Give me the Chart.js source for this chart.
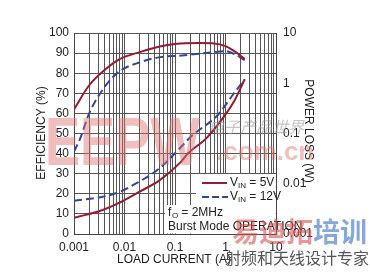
<!DOCTYPE html>
<html>
<head>
<meta charset="utf-8">
<script src="https://cdn.jsdelivr.net/npm/chart.js@4"></script>
<style>
  body { margin: 0; background: #fff; }
  canvas { display: block; }
</style>
</head>
<body>
<canvas id="effChart" width="370" height="276"></canvas>
<script>
// efficiency (%) vs load current (A)
const effCurrent5 = [0.001, 0.002, 0.004, 0.008, 0.02, 0.05, 0.1, 0.3, 0.6, 1, 1.5, 2.4];
const eff5 = [62, 74, 81.5, 87, 90.5, 93.3, 94.5, 95, 94.8, 93.5, 91, 87];
const effCurrent12 = [0.001, 0.0013, 0.002, 0.004, 0.008, 0.018, 0.05, 0.12, 0.6, 1, 1.5, 2.4];
const eff12 = [41, 47, 60, 73, 81, 85, 88, 88.7, 90.5, 91, 89.5, 86.5];

// power loss (W) vs load current (A)
const lossCurrent5 = [0.001, 0.0037, 0.008, 0.018, 0.05, 0.125, 0.18, 0.42, 0.97, 1.5, 2.4];
const loss5 = [0.0021, 0.003, 0.0042, 0.0066, 0.0118, 0.026, 0.04, 0.081, 0.23, 0.45, 1.2];
const lossCurrent12 = [0.001, 0.0037, 0.008, 0.018, 0.05, 0.125, 0.21, 0.71, 1.4, 2.4];
const loss12 = [0.0046, 0.0055, 0.0069, 0.0105, 0.0205, 0.051, 0.088, 0.236, 0.59, 1.2];

const xDecades = [0.001, 0.01, 0.1, 1, 10];
const xTickLabels = ["0.001", "0.01", "0.1", "1", "10"];
const lossDecades = [0.001, 0.01, 0.1, 1, 10];
const lossTickLabels = ["0.001", "0.01", "0.1", "1", "10"];

const RED = "#951b30";
const BLUE = "#34469a";
const FONT = "'Liberation Sans Narrow', 'Liberation Sans', Arial, sans-serif";

function pts(xs, ys) {
    return xs.map((x, i) => ({ x: x, y: ys[i] }));
}

// all 1..9 lines per decade for the log grid
const xGrid = [];
xDecades.forEach(d => {
    for (let k = 1; k <= 9; k++) {
        if (d * k <= 10.0001) xGrid.push(+(d * k).toPrecision(3));
    }
});

function labelFor(value, decades, labels) {
    for (let i = 0; i < decades.length; i++) {
        if (Math.abs(value / decades[i] - 1) < 1e-6) return labels[i];
    }
    return "";
}

function drawVin(ctx, x, y, rest) {
    ctx.font = "12px " + FONT;
    ctx.fillText("V", x, y);
    let w = ctx.measureText("V").width;
    ctx.font = "8px " + FONT;
    ctx.fillText("IN", x + w, y + 3);
    w += ctx.measureText("IN").width;
    ctx.font = "12px " + FONT;
    ctx.fillText(rest, x + w, y);
}

const overlay = {
    id: "overlay",
    beforeDatasetsDraw(chart) {
        const ctx = chart.ctx;
        ctx.save();
        ctx.fillStyle = "#fff";
        // white area behind legend and notes
        ctx.fillRect(196, 174, 79.5, 60);
        ctx.fillRect(165, 205, 110.5, 28.5);
        ctx.restore();
    },
    afterDraw(chart) {
        const ctx = chart.ctx;
        ctx.save();
        ctx.fillStyle = "#222";
        ctx.textBaseline = "middle";

        // legend
        ctx.lineWidth = 2;
        ctx.strokeStyle = RED;
        ctx.beginPath(); ctx.moveTo(202, 183); ctx.lineTo(227, 183); ctx.stroke();
        ctx.strokeStyle = BLUE;
        ctx.setLineDash([7, 3]);
        ctx.beginPath(); ctx.moveTo(202, 197); ctx.lineTo(228, 197); ctx.stroke();
        ctx.setLineDash([]);
        ctx.textAlign = "left";
        drawVin(ctx, 230, 183, " = 5V");
        drawVin(ctx, 230, 197, " = 12V");

        // notes
        ctx.font = "12px " + FONT;
        ctx.fillText("f", 168, 213);
        ctx.font = "8px " + FONT;
        ctx.fillText("O", 172, 216);
        ctx.font = "12px " + FONT;
        ctx.fillText(" = 2MHz", 178, 213);
        ctx.fillText("Burst Mode OPERATION", 168, 227);

        // axis titles
        ctx.font = "12px " + FONT;
        ctx.textAlign = "center";
        ctx.fillText("LOAD CURRENT (A)", 174, 260);
        ctx.save();
        ctx.translate(42, 133);
        ctx.rotate(-Math.PI / 2);
        ctx.fillText("EFFICIENCY (%)", 0, 0);
        ctx.restore();
        ctx.save();
        ctx.translate(308, 131);
        ctx.rotate(Math.PI / 2);
        ctx.fillText("POWER LOSS (W)", 0, 0);
        ctx.restore();

        // watermarks
        ctx.textBaseline = "alphabetic";
        ctx.save();
        ctx.fillStyle = "rgba(225, 110, 110, 0.45)";
        ctx.font = "bold 68px 'Liberation Sans', Arial, sans-serif";
        ctx.textAlign = "left";
        const w = ctx.measureText("EEPW").width;
        ctx.translate(45, 165);
        ctx.scale(155 / w, 1);
        ctx.fillText("EEPW", 0, 0);
        ctx.restore();

        ctx.fillStyle = "rgba(225, 110, 110, 0.45)";
        ctx.font = "bold 26px 'Liberation Sans', Arial, sans-serif";
        ctx.textAlign = "left";
        ctx.fillText(".com.cn", 216, 160);

        ctx.fillStyle = "rgba(150, 150, 150, 0.55)";
        ctx.font = "italic 16px 'Noto Sans CJK SC'";
        ctx.fillText("电子产品世界", 208, 133);

        ctx.font = "bold 27px 'Noto Sans CJK SC'";
        ctx.fillStyle = "rgba(215, 80, 80, 0.6)";
        ctx.fillText("易迪拓", 232, 242);
        ctx.fillStyle = "rgba(70, 120, 200, 0.65)";
        ctx.fillText("培训", 232 + ctx.measureText("易迪拓").width, 242);

        ctx.fillStyle = "#555";
        ctx.font = "16px 'Noto Sans CJK SC'";
        ctx.fillText("射频和天线设计专家", 225, 264);
        ctx.restore();
    }
};

new Chart(document.getElementById("effChart"), {
    type: "line",
    data: {
        datasets: [
            { label: "VIN = 5V", data: pts(effCurrent5, eff5), yAxisID: "y",
              borderColor: RED, borderWidth: 2 },
            { label: "VIN = 12V", data: pts(effCurrent12, eff12), yAxisID: "y",
              borderColor: BLUE, borderWidth: 2, borderDash: [8, 4] },
            { label: "loss 5V", data: pts(lossCurrent5, loss5), yAxisID: "y2",
              borderColor: RED, borderWidth: 2 },
            { label: "loss 12V", data: pts(lossCurrent12, loss12), yAxisID: "y2",
              borderColor: BLUE, borderWidth: 2, borderDash: [8, 4] }
        ]
    },
    options: {
        responsive: false,
        animation: false,
        layout: { padding: { top: 33, left: 0, right: 0, bottom: 0 } },
        elements: {
            point: { radius: 0 },
            line: { cubicInterpolationMode: "monotone", fill: false }
        },
        plugins: { legend: { display: false }, tooltip: { enabled: false } },
        scales: {
            x: {
                type: "logarithmic",
                min: 0.001,
                max: 10,
                afterBuildTicks: s => { s.ticks = xGrid.map(v => ({ value: v })); },
                afterFit: s => { s.height = 42; },
                grid: { color: "#555", lineWidth: 1, drawTicks: false },
                border: { color: "#444" },
                ticks: {
                    autoSkip: false, maxRotation: 0, padding: 6, color: "#222",
                    font: { family: FONT, size: 12 },
                    callback: v => labelFor(v, xDecades, xTickLabels)
                }
            },
            y: {
                position: "left",
                min: 0,
                max: 100,
                afterFit: s => { s.width = 74; },
                grid: { color: "#555", lineWidth: 1, drawTicks: false },
                border: { color: "#444" },
                ticks: { stepSize: 10, padding: 5, color: "#222",
                         font: { family: FONT, size: 12 } }
            },
            y2: {
                type: "logarithmic",
                position: "right",
                min: 0.001,
                max: 10,
                afterBuildTicks: s => { s.ticks = lossDecades.map(v => ({ value: v })); },
                afterFit: s => { s.width = 94; },
                grid: { display: false, drawTicks: false },
                border: { color: "#444" },
                ticks: {
                    padding: 7, color: "#222",
                    font: { family: FONT, size: 12 },
                    callback: v => labelFor(v, lossDecades, lossTickLabels)
                }
            }
        }
    },
    plugins: [overlay]
});
</script>
</body>
</html>
